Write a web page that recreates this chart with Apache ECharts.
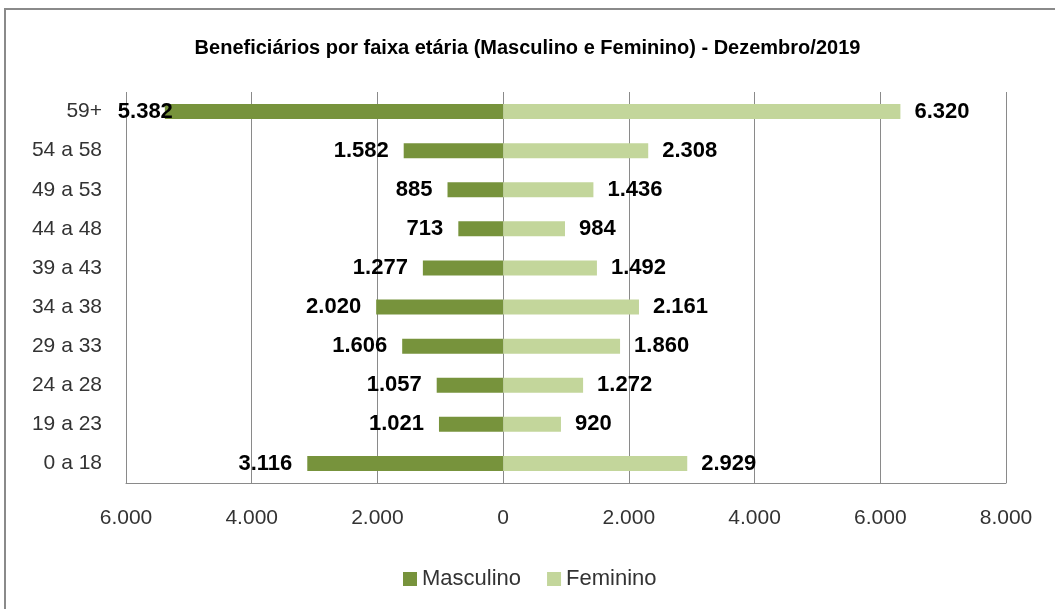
<!DOCTYPE html>
<html>
<head>
<meta charset="utf-8">
<script src="https://cdn.jsdelivr.net/npm/echarts@6/dist/echarts.min.js"></script>
<style>
  html, body { margin: 0; padding: 0; background: #fff; }
  .box1 { width: 1055px; height: 609px; }
</style>
</head>
<body>
<div class="box1"></div>
<script>
// faixas etárias (de baixo para cima) e valores
var faixas = ['0 a 18', '19 a 23', '24 a 28', '29 a 33', '34 a 38', '39 a 43', '44 a 48', '49 a 53', '54 a 58', '59+'];
var masculino = [3116, 1021, 1057, 1606, 2020, 1277, 713, 885, 1582, 5382];
var feminino = [2929, 920, 1272, 1860, 2161, 1492, 984, 1436, 2308, 6320];
var eixoTicks = [-6000, -4000, -2000, 0, 2000, 4000, 6000, 8000];

// 6000 -> "6.000"
function fmt(v) {
  return String(Math.abs(v)).replace(/\B(?=(\d{3})+(?!\d))/g, '.');
}

(function () {
  var myChart = echarts.init(document.querySelector('.box1'));

  var dadosMasc = masculino.map(function (v, i) {
    var item = { value: -v };
    // o rótulo do maior valor entra um pouco na barra (como no Excel)
    if (i === masculino.length - 1) item.label = { distance: -8 };
    return item;
  });

  var option = {
    backgroundColor: '#fff',
    animation: false,
    title: {
      text: 'Beneficiários por faixa etária (Masculino e Feminino) - Dezembro/2019',
      left: 'center',
      top: 33,
      textStyle: { color: '#000', fontSize: 20, fontWeight: 'bold', fontFamily: 'Liberation Sans' }
    },
    graphic: [{
      type: 'rect',
      shape: { x: 5, y: 9, width: 1100, height: 700 },
      style: { fill: 'none', stroke: '#8a8a8a', lineWidth: 2 },
      silent: true
    }],
    legend: {
      left: 398,
      top: 563,
      icon: 'rect',
      itemWidth: 14,
      itemHeight: 14,
      itemGap: 26,
      textStyle: { color: '#333', fontSize: 22, fontFamily: 'Liberation Sans' },
      data: ['Masculino', 'Feminino']
    },
    grid: { left: 126, right: 49, top: 92, bottom: 126 },
    xAxis: {
      type: 'value',
      min: eixoTicks[0],
      max: eixoTicks[eixoTicks.length - 1],
      interval: 2000,
      axisLine: { show: true, lineStyle: { color: '#8a8a8a' } },
      axisTick: { show: false },
      splitLine: { show: true, lineStyle: { color: '#8a8a8a', width: 1 } },
      axisLabel: {
        margin: 25,
        color: '#333',
        fontSize: 21,
        fontFamily: 'Liberation Sans',
        formatter: fmt
      }
    },
    yAxis: {
      type: 'category',
      data: faixas,
      axisLine: { show: false, onZero: false },
      axisTick: { show: false },
      axisLabel: { margin: 24, color: '#333', fontSize: 21, fontFamily: 'Liberation Sans' }
    },
    series: [
      {
        name: 'Masculino',
        type: 'bar',
        barWidth: 15,
        barGap: '-100%',
        itemStyle: { color: '#77933C' },
        label: {
          show: true,
          position: 'left',
          distance: 15,
          color: '#000',
          fontSize: 22,
          fontWeight: 'bold',
          fontFamily: 'Liberation Sans',
          formatter: function (p) { return fmt(p.value); }
        },
        data: dadosMasc
      },
      {
        name: 'Feminino',
        type: 'bar',
        barWidth: 15,
        barGap: '-100%',
        itemStyle: { color: '#C3D69B' },
        label: {
          show: true,
          position: 'right',
          distance: 14,
          color: '#000',
          fontSize: 22,
          fontWeight: 'bold',
          fontFamily: 'Liberation Sans',
          formatter: function (p) { return fmt(p.value); }
        },
        data: feminino
      }
    ]
  };

  myChart.setOption(option);
  window.addEventListener('resize', function () {
    myChart.resize();
  });
})();
</script>
</body>
</html>
